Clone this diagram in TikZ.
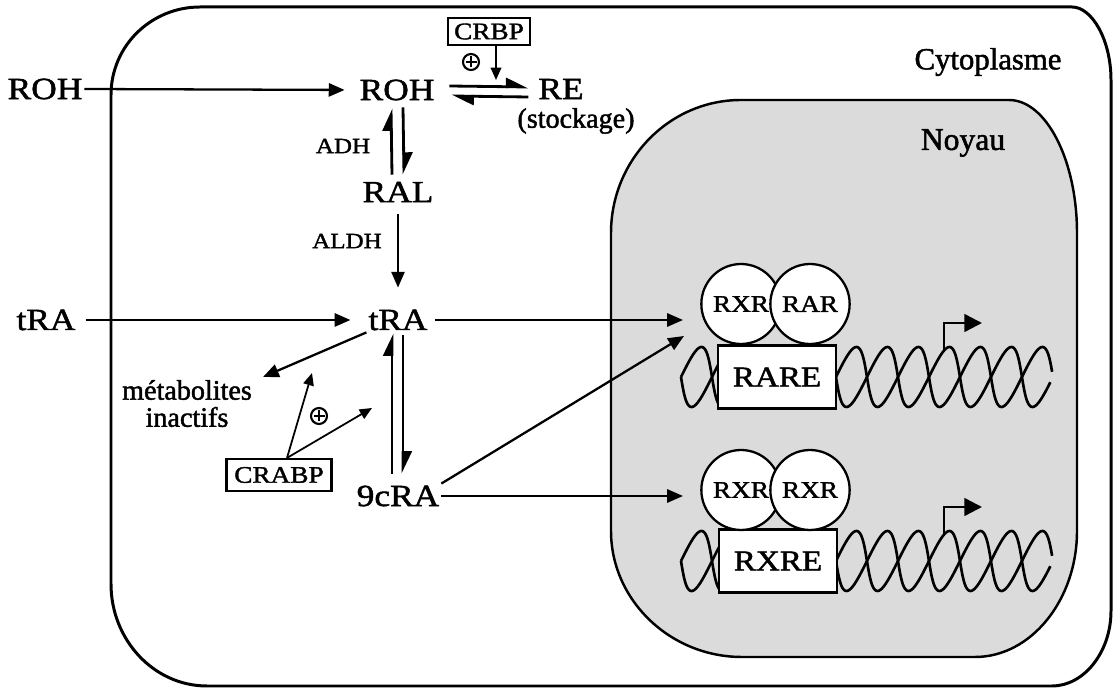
\documentclass[tikz,border=0pt]{standalone}
\usepackage{fontspec}
\setmainfont{Liberation Serif}[FakeBold=1.6]
\newfontfamily\widefont{Liberation Serif}[FakeStretch=1.15,FakeBold=1.6]
\usetikzlibrary{arrows.meta,shapes.geometric,calc}
\begin{document}
\begin{tikzpicture}[x=0.02cm,y=-0.02cm,
  lbl/.style={inner sep=1pt, font=\widefont\fontsize{17.5}{20}\selectfont},
  sml/.style={inner sep=1pt, font=\widefont\fontsize{12.4}{14}\selectfont},
  txt/.style={inner sep=0.5pt, font=\fontsize{16}{18}\selectfont},
  boxed/.style={draw, line width=1.2pt, inner sep=0pt, font=\widefont\fontsize{13.5}{15}\selectfont},
  rec/.style={ellipse, draw, fill=white, line width=1.3pt, minimum width=1.36cm, minimum height=1.6cm, inner sep=0pt, font=\widefont\fontsize{13.5}{15}\selectfont},
  elem/.style={draw, fill=white, line width=1.3pt, minimum width=2.36cm, minimum height=1.26cm, inner sep=0pt, font=\widefont\fontsize{16.4}{18}\selectfont},
  arr/.style={line width=1.3pt, -{Triangle[length=9pt,width=7.5pt]}},
  thinarr/.style={line width=1pt, -{Triangle[length=7pt,width=6pt]}},
  harp/.style={line width=1.6pt, -{Triangle[harpoon,length=11pt,width=10pt]}},
  bent/.style={line width=1.4pt, -{Triangle[length=10pt,width=10pt]}},
  helix/.style={line width=1.5pt},
  plusc/.style={circle, draw, line width=1.2pt, minimum size=0.32cm, inner sep=0pt,
    path picture={\draw[line width=1.4pt]
      ([xshift=-0.11cm]path picture bounding box.center) -- ([xshift=0.11cm]path picture bounding box.center)
      ([yshift=-0.11cm]path picture bounding box.center) -- ([yshift=0.11cm]path picture bounding box.center);}},
]
\useasboundingbox (0,0) rectangle (1113,688);

% cell (cytoplasm)
\draw[line width=1.7pt] (111,95) .. controls (111,46) and (151,7) .. (200,7) -- (1072,7)
  .. controls (1092,7) and (1111,40) .. (1111,80) -- (1111,611)
  .. controls (1111,652) and (1084,686) .. (1052,686) -- (207,686)
  .. controls (154,686) and (111,640) .. (111,584) -- cycle;

% nucleus
\draw[line width=1.4pt, fill=black!14] (611,233) .. controls (611,160) and (669,100) .. (741,100)
  -- (1009,100) .. controls (1046,100) and (1077,160) .. (1077,233) -- (1077,531)
  .. controls (1077,600) and (1031,657) .. (975,657) -- (742,657)
  .. controls (670,657) and (611,600) .. (611,531) -- cycle;

% DNA double helices
\foreach \yc in {377,561} {
  \draw[helix] plot[smooth, domain=0:2150, samples=300] ({681 + 0.1722*\x + 5*sin(\x)}, {\yc - 30*sin(\x)});
  \draw[helix] plot[smooth, domain=0:2150, samples=300] ({681 + 0.1722*\x - 5*sin(\x)}, {\yc + 30*sin(\x)});
}

% response elements and receptors
\node[elem] (rare) at (777,377) {RARE};
\node[elem] (rxre) at (778,561) {RXRE};
\node[rec] (rxr1) at (741,304) {RXR};
\node[rec] (rar1) at (810,304) {RAR};
\node[rec] (rxr2) at (741,490) {RXR};
\node[rec] (rxr3) at (810,490) {RXR};

% transcription start arrows
\coordinate (s1) at (944,350);
\coordinate (t1) at (982,323);
\coordinate (s2) at (944,534);
\coordinate (t2) at (982,507);
\draw[bent] (s1) |- (t1);
\draw[bent] (s2) |- (t2);

% labels
\node[font=\fontsize{17.5}{19}\selectfont] (cyto) at (988,62) {Cytoplasme};
\node[font=\fontsize{18}{20}\selectfont] (noyau) at (963,143) {Noyau};

\node[lbl] (rohL) at (45,89) {ROH};
\node[lbl] (roh) at (397,90) {ROH};
\node[lbl] (re) at (561,89) {RE};
\node[txt] (stock) at (576,121) {(stockage)};
\node[boxed, minimum width=1.64cm, minimum height=0.54cm] (crbp) at (489,31.5) {CRBP};
\node[plusc] (p1) at (471,62) {};
\node[lbl] (ral) at (398,192) {RAL};
\node[sml] (adh) at (343,146) {ADH};
\node[sml] (aldh) at (347,241) {ALDH};
\node[lbl] (traL) at (46,320) {tRA};
\node[lbl] (tra) at (398,320) {tRA};
\node[txt] (met) at (187,390) {métabolites};
\node[txt] (inact) at (187,417) {inactifs};
\node[boxed, minimum width=2.1cm, minimum height=0.64cm] (crabp) at (279,475) {CRABP};
\node[plusc] (p2) at (319,416) {};
\node[lbl] (ncra) at (398,496) {9cRA};

% free ends
\coordinate (in1) at (683,320);
\coordinate (in2) at (684,336);
\coordinate (in3) at (683,496);
\coordinate (metTip) at (263,377);
\coordinate (c1) at (312,373);
\coordinate (c2) at (372,408);
\coordinate (c3) at (496,80);

% connectors
\draw[arr, shorten >=0.26cm] (rohL.east) -- (roh.west);
\draw[arr, shorten <=0.16cm, shorten >=0.32cm] (traL.east) -- (tra.west);
\draw[arr, shorten <=0.1cm] (tra.east) -- (in1);
\draw[arr] (ncra.north east) -- (in2);
\draw[arr] (ncra.east) -- (in3);
\draw[arr] (tra.south west) -- (metTip);
\draw[arr, shorten <=0.2cm, shorten >=0.4cm] (ral.south) -- (tra.north);

\draw[harp] ($(roh.east)+(13,-4)$) -- ($(re.west)+(-8,-2)$);
\draw[harp] ($(re.west)+(-8,8)$) -- ($(roh.east)+(15,6)$);
\draw[harp] ($(ral.north)+(-6,-5)$) -- ($(roh.south)+(-6,6)$);
\draw[harp] ($(roh.south)+(6,5)$) -- ($(ral.north)+(6,-5)$);
\draw[harp] ($(ncra.north)+(-6,-10)$) -- ($(tra.south)+(-6,1)$);
\draw[harp] ($(tra.south)+(5,3)$) -- ($(ncra.north)+(5,-10)$);

\draw[thinarr] ([xshift=0.14cm]crbp.south) -- (c3);
\draw[thinarr] ([xshift=0.16cm]crabp.north) -- (c1);
\draw[thinarr] ([xshift=0.16cm]crabp.north) -- (c2);
\end{tikzpicture}
\end{document}
